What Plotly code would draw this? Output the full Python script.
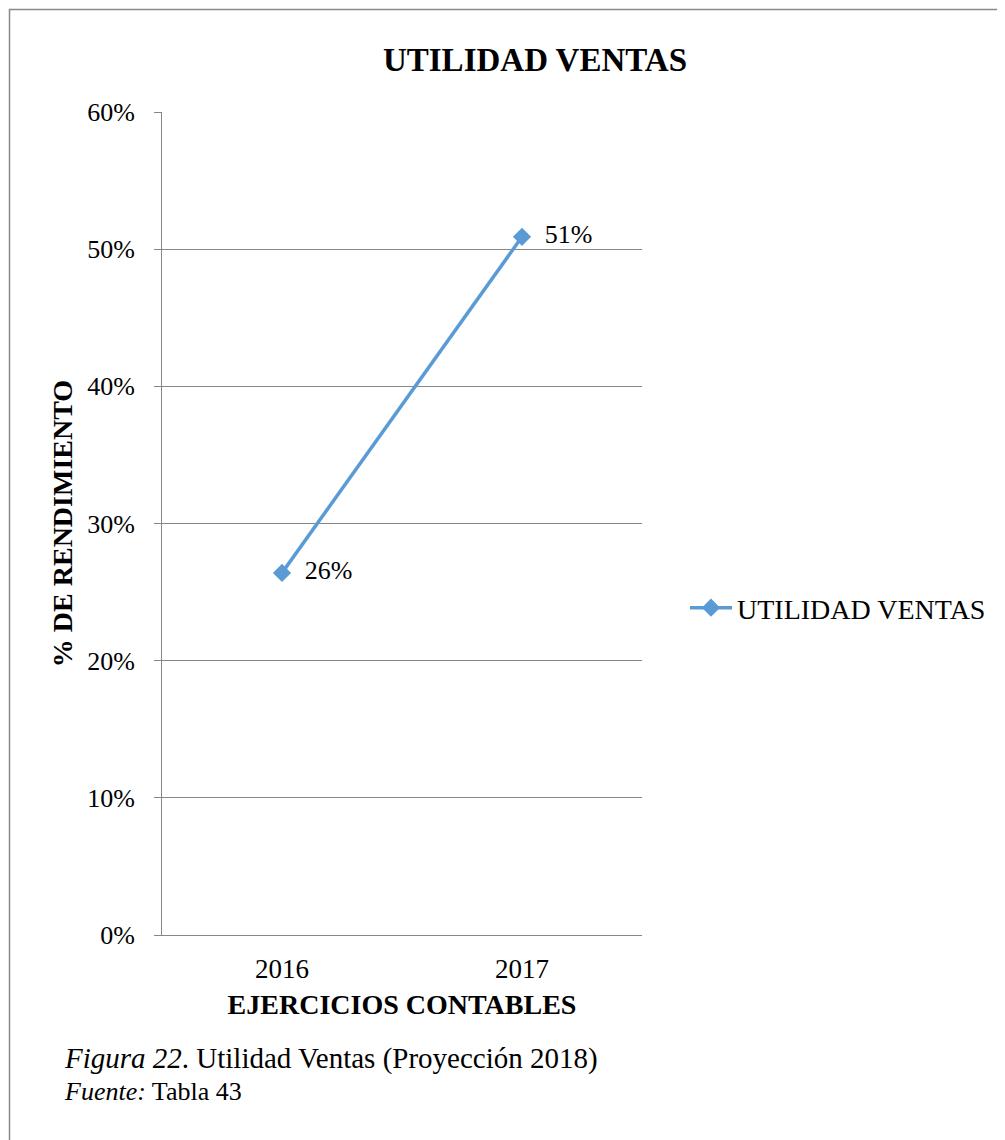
import plotly.graph_objects as go

# ---- data ----
years = ["2016", "2017"]
utilidad = [0.264, 0.509]
point_labels = ["26%", "51%"]
y_tickvals = [0, 0.1, 0.2, 0.3, 0.4, 0.5, 0.6]
y_ticktext = ["0%", "10%", "20%", "30%", "40%", "50%", "60%"]
series_name = "UTILIDAD VENTAS"
chart_title = "UTILIDAD VENTAS"
x_title = "EJERCICIOS CONTABLES"
y_title = "% DE RENDIMIENTO"
caption_line1 = "<i>Figura 22</i>. Utilidad Ventas (Proyección 2018)"
caption_line2 = "<i>Fuente:</i> Tabla 43"

OFF = 8  # page body margin in the browser
W, H = 1005 - OFF, 1140 - OFF
L, R, T, B = 162 - OFF, 642 - OFF, 112 - OFF, 935 - OFF  # plot area in figure px
pw, ph = R - L, B - T

def px_x(px):  # px in reference-image coordinates
    return (px - OFF - L) / pw

def px_y(py):
    return (B - (py - OFF)) / ph

FONT = "Liberation Serif, Times New Roman, serif"
BLUE = "#5B9BD5"
GRID = "#868686"
NBSP = "\u00a0"

fig = go.Figure()
fig.add_trace(go.Scatter(
    x=years, y=utilidad, name=series_name,
    mode="lines+markers+text",
    text=point_labels, textposition="middle right",
    texttemplate=NBSP * 2 + "%{text}",
    textfont=dict(family=FONT, size=26, color="black"),
    line=dict(color=BLUE, width=3.5),
    marker=dict(symbol="diamond", size=14, color=BLUE),
))

fig.update_layout(
    width=W, height=H,
    margin=dict(l=L, r=W - R, t=T, b=H - B, autoexpand=False),
    paper_bgcolor="white", plot_bgcolor="white",
    font=dict(family=FONT, color="black", size=26),
    title=dict(text="<b>" + chart_title + "</b>", font=dict(size=33, family=FONT, color="black"),
               x=(535 - OFF) / W, xref="container", xanchor="center",
               y=1 - (59 - OFF) / H, yref="container", yanchor="middle"),
    showlegend=True,
    legend=dict(x=px_x(685), y=px_y(608), xanchor="left", yanchor="middle",
                itemwidth=42,
                font=dict(size=28, family=FONT, color="black"),
                bgcolor="rgba(0,0,0,0)"),
    xaxis=dict(
        type="category", range=[-0.5, 1.5],
        showgrid=False, showline=True, linecolor=GRID, linewidth=1,
        ticks="", tickfont=dict(size=27, family=FONT, color="black"),
        ticklabelstandoff=10,
        title=dict(text="<b>" + x_title + "</b>", font=dict(size=28, family=FONT, color="black"),
                   standoff=10),
        fixedrange=True,
    ),
    yaxis=dict(
        range=[0, 0.6], tickvals=y_tickvals, ticktext=y_ticktext,
        showgrid=True, gridcolor=GRID, gridwidth=1,
        showline=True, linecolor=GRID, linewidth=1,
        ticks="outside", ticklen=7, tickcolor=GRID,
        tickfont=dict(size=26, family=FONT, color="black"),
        ticklabelstandoff=14,
        title=dict(text="<b>" + y_title + "</b>", font=dict(size=28, family=FONT, color="black"),
                   standoff=6),
        zeroline=False, fixedrange=True,
    ),
    shapes=[dict(type="rect", xref="paper", yref="paper",
                 x0=px_x(9.5), x1=px_x(1030), y0=px_y(1180), y1=px_y(9.5),
                 line=dict(color="#888888", width=1.5), fillcolor="rgba(0,0,0,0)", layer="below")],
    annotations=[
        dict(text=caption_line1, xref="paper", yref="paper",
             x=px_x(62), y=px_y(1058), xanchor="left", yanchor="middle",
             align="left", showarrow=False,
             font=dict(size=29, family=FONT, color="black")),
        dict(text=caption_line2, xref="paper", yref="paper",
             x=px_x(62), y=px_y(1091), xanchor="left", yanchor="middle",
             align="left", showarrow=False,
             font=dict(size=26, family=FONT, color="black")),
    ],
)

fig.write_html("out.html")
